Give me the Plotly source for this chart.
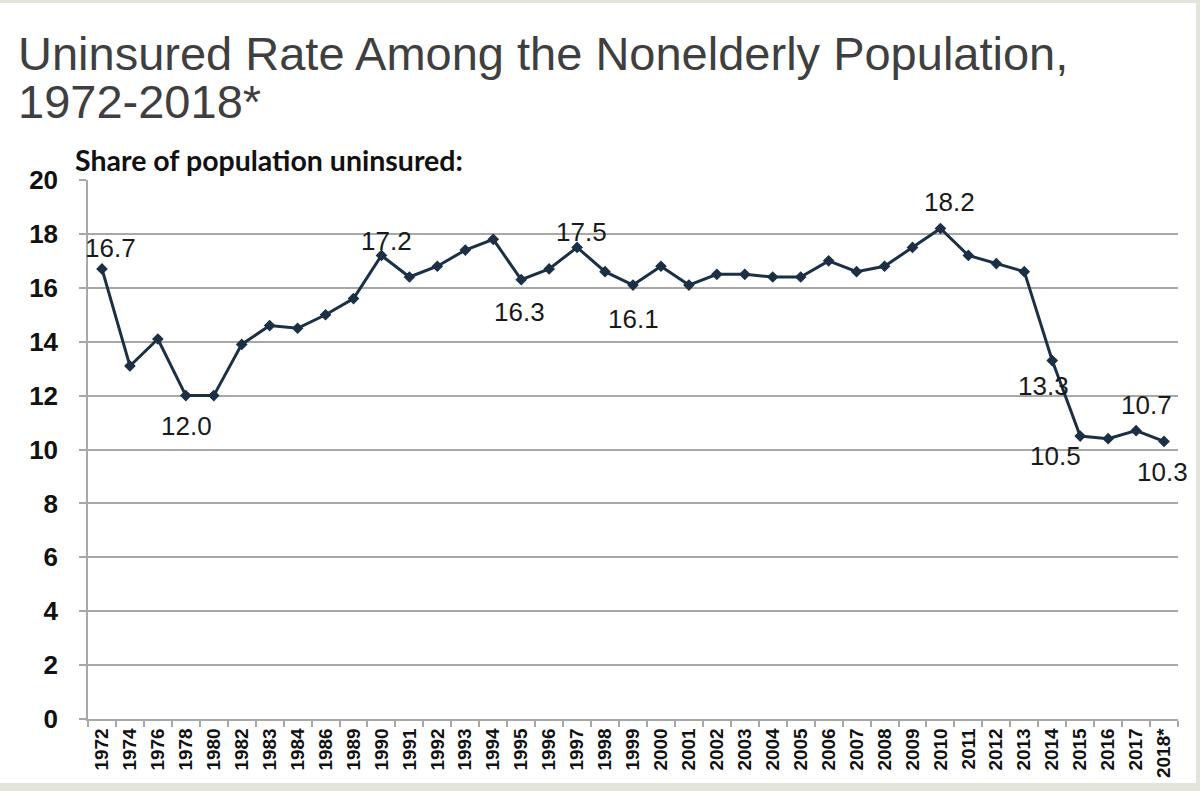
import plotly.graph_objects as go

years = ["1972", "1974", "1976", "1978", "1980", "1982", "1983", "1984", "1986", "1989",
         "1990", "1991", "1992", "1993", "1994", "1995", "1996", "1997", "1998", "1999",
         "2000", "2001", "2002", "2003", "2004", "2005", "2006", "2007", "2008", "2009",
         "2010", "2011", "2012", "2013", "2014", "2015", "2016", "2017", "2018*"]
rates = [16.7, 13.1, 14.1, 12.0, 12.0, 13.9, 14.6, 14.5, 15.0, 15.6,
         17.2, 16.4, 16.8, 17.4, 17.8, 16.3, 16.7, 17.5, 16.6, 16.1,
         16.8, 16.1, 16.5, 16.5, 16.4, 16.4, 17.0, 16.6, 16.8, 17.5,
         18.2, 17.2, 16.9, 16.6, 13.3, 10.5, 10.4, 10.7, 10.3]
labeled_years = ["1972", "1978", "1990", "1995", "1997", "1999", "2010", "2014", "2015", "2017", "2018*"]
y_ticks = [0, 2, 4, 6, 8, 10, 12, 14, 16, 18, 20]

title_line1 = "Uninsured Rate Among the Nonelderly Population,"
title_line2 = "1972-2018*"
subtitle = "Share of population uninsured:"

# label offsets (pixels) – styling only
label_offsets = {
    "1972": (9, 21), "1978": (1, -30), "1990": (5, 14), "1995": (-2, -32),
    "1997": (4, 15), "1999": (0, -34), "2010": (9, 27), "2014": (-9, -25),
    "2015": (-25, -20), "2017": (10, 26), "2018*": (-2, -31),
}

LINE = "#1b2f45"
GRID = "#a8a8a8"

fig = go.Figure()
fig.add_trace(go.Scatter(
    x=years, y=rates, mode="lines+markers",
    line=dict(color=LINE, width=3),
    marker=dict(symbol="diamond", size=9, color=LINE),
    hoverinfo="x+y", showlegend=False,
))

annotations = []
for yr in labeled_years:
    i = years.index(yr)
    dx, dy = label_offsets[yr]
    annotations.append(dict(
        x=i, y=rates[i], xref="x", yref="y", text=f"{rates[i]:.1f}",
        showarrow=False, xshift=dx, yshift=dy,
        font=dict(family="Liberation Sans, Arial", size=26, color="#1a1a1a"),
    ))

PL, PR, PT, PB = 88, 1178, 180, 719
W, H = PR - PL, PB - PT
def px(x):
    return (x - PL) / W
def py(y):
    return (PB - y) / H

annotations += [
    dict(text=title_line1, xref="paper", yref="paper", x=px(16), y=py(53),
         xanchor="left", yanchor="middle", showarrow=False,
         font=dict(family="Liberation Sans, Arial", size=47, color="#3f3f3f")),
    dict(text=title_line2, xref="paper", yref="paper", x=px(16), y=py(102),
         xanchor="left", yanchor="middle", showarrow=False,
         font=dict(family="Liberation Sans, Arial", size=47, color="#3f3f3f")),
    dict(text="<b>" + subtitle + "</b>", xref="paper", yref="paper", x=px(73), y=py(160),
         xanchor="left", yanchor="middle", showarrow=False,
         font=dict(family="Lato, Open Sans", size=28.5, color="#111111")),
]

FRAME = "#e3e5dc"
shapes = [
    dict(type="rect", xref="paper", yref="paper", x0=px(-5), x1=px(1205), y0=py(0), y1=py(3),
         fillcolor=FRAME, line=dict(width=0), layer="below"),
    dict(type="rect", xref="paper", yref="paper", x0=px(1196), x1=px(1205), y0=py(-5), y1=py(795),
         fillcolor=FRAME, line=dict(width=0), layer="below"),
    dict(type="rect", xref="paper", yref="paper", x0=px(-5), x1=px(1205), y0=py(783), y1=py(795),
         fillcolor=FRAME, line=dict(width=0), layer="below"),
]

fig.update_layout(
    width=1200, height=791,
    margin=dict(l=PL, r=1200 - PR, t=PT, b=791 - PB, autoexpand=False),
    paper_bgcolor="white", plot_bgcolor="white",
    annotations=annotations, shapes=shapes,
    xaxis=dict(
        type="category", categoryorder="array", categoryarray=years,
        tickson="boundaries", ticks="outside", ticklen=6, tickcolor=GRID, tickwidth=1.5,
        showline=True, linecolor=GRID, linewidth=1.5, showgrid=False,
        tickangle=-90, tickfont=dict(family="Liberation Sans, Arial", size=19, color="#111111", weight="bold"),
        range=[-0.5, len(years) - 0.5], fixedrange=True, automargin=False,
    ),
    yaxis=dict(
        range=[0, 20], tickvals=y_ticks, ticks="outside", ticklen=7, tickcolor=GRID, tickwidth=1.5,
        showline=True, linecolor=GRID, linewidth=1.5, showgrid=True, gridcolor=GRID, gridwidth=1.5,
        zeroline=False, ticklabelstandoff=16, automargin=False,
        tickfont=dict(family="Liberation Sans, Arial", size=26, color="#111111", weight="bold"),
        fixedrange=True,
    ),
)

fig.write_html("out.html", config={"displayModeBar": False},
               post_script="document.body.style.margin='0';document.body.style.overflow='hidden';")
